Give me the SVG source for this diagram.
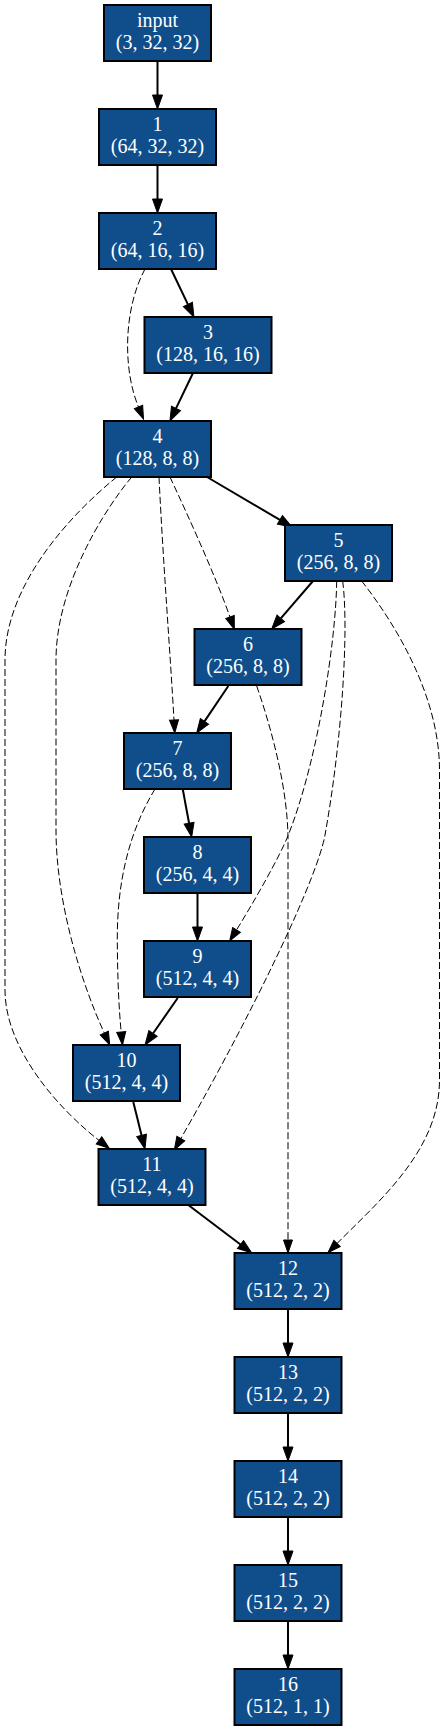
<svg xmlns="http://www.w3.org/2000/svg" width="445" height="1731" viewBox="0 0 445 1731">
<style>
.node rect{fill:#104e8b;stroke:#000;stroke-width:2}
.node text{fill:#fff;font-family:"Liberation Serif","Times New Roman",serif;font-size:20px;text-anchor:middle}
.e{fill:none;stroke:#000;stroke-width:2;marker-end:url(#as)}
.d{fill:none;stroke:#000;stroke-width:1;stroke-dasharray:7,3;marker-end:url(#ad)}
</style>
<defs>
<marker id="as" markerUnits="userSpaceOnUse" orient="auto" refX="0" refY="0" markerWidth="1" markerHeight="1" overflow="visible"><path d="M0,-5 L14,0 L0,5 z" fill="#000" stroke="#000" stroke-width="1"/></marker>
<marker id="ad" markerUnits="userSpaceOnUse" orient="auto" refX="0" refY="0" markerWidth="1" markerHeight="1" overflow="visible"><path d="M0,-4.5 L13,0 L0,4.5 z" fill="#000" stroke="#000" stroke-width="1" stroke-dasharray="none"/></marker>
</defs>
<g id="edges">
<path class="e" d="M157.5,61 L157.5,95"/>
<path class="e" d="M157.5,165 L157.5,199"/>
<path class="e" d="M171,269 L187.9,304.4"/>
<path class="d" d="M145,269 C123,310 123,370 138.5,407"/>
<path class="e" d="M193,373 L176,408.4"/>
<path class="e" d="M207,477 L279.9,519.9"/>
<path class="d" d="M170,477 C190,520 215,575 230,617"/>
<path class="d" d="M159,477 C163,560 170,650 174,720"/>
<path class="d" d="M131.7,477 C100,515 56,590 56,660 L56,830 C56,900 80,980 104.3,1033"/>
<path class="d" d="M116.7,477 C70,515 5,585 5,660 L5,990 C5,1050 60,1110 99,1140.4"/>
<path class="e" d="M313,581 L280.8,618.4"/>
<path class="d" d="M336.7,581 C336,640 318,760 288.3,835 C280,856 255,900 236.5,930"/>
<path class="d" d="M342.7,581 C349,630 342,740 325,835 C318,875 260,1000 180.8,1138.6"/>
<path class="d" d="M361.7,581 C400,630 439.5,700 439.5,770 L439.5,1080 C439.5,1150 380,1200 337.1,1243.4"/>
<path class="e" d="M228.3,686 L204.5,721.4"/>
<path class="d" d="M256.7,686 C272,730 288,790 288,840 L288,1240"/>
<path class="e" d="M182.7,789 L189.1,823.2"/>
<path class="d" d="M155,789 C130,830 117,880 117.3,940 C117.5,980 119,1010 121.2,1032"/>
<path class="e" d="M197.5,894 L197.5,927"/>
<path class="e" d="M177.7,998 L153,1033.5"/>
<path class="e" d="M133.3,1102 L141.6,1135.4"/>
<path class="e" d="M188.3,1205 L240.5,1244.5"/>
<path class="e" d="M288,1309 L288,1343"/>
<path class="e" d="M288,1413 L288,1447"/>
<path class="e" d="M288,1517 L288,1551"/>
<path class="e" d="M288,1621 L288,1655"/>
</g>
<g id="node_input" class="node"><rect x="104" y="5" width="107" height="56"/><text x="157.5" y="27">input</text><text x="157.5" y="49">(3, 32, 32)</text></g>
<g id="node_1" class="node"><rect x="99" y="109" width="117" height="56"/><text x="157.5" y="131">1</text><text x="157.5" y="153">(64, 32, 32)</text></g>
<g id="node_2" class="node"><rect x="99" y="213" width="117" height="56"/><text x="157.5" y="235">2</text><text x="157.5" y="257">(64, 16, 16)</text></g>
<g id="node_3" class="node"><rect x="144.5" y="317" width="127" height="56"/><text x="208" y="339">3</text><text x="208" y="361">(128, 16, 16)</text></g>
<g id="node_4" class="node"><rect x="104" y="421" width="107" height="56"/><text x="157.5" y="443">4</text><text x="157.5" y="465">(128, 8, 8)</text></g>
<g id="node_5" class="node"><rect x="285" y="525" width="107" height="56"/><text x="338.5" y="547">5</text><text x="338.5" y="569">(256, 8, 8)</text></g>
<g id="node_6" class="node"><rect x="194.5" y="629" width="107" height="56"/><text x="248" y="651">6</text><text x="248" y="673">(256, 8, 8)</text></g>
<g id="node_7" class="node"><rect x="124" y="733" width="107" height="56"/><text x="177.5" y="755">7</text><text x="177.5" y="777">(256, 8, 8)</text></g>
<g id="node_8" class="node"><rect x="144" y="837" width="107" height="56"/><text x="197.5" y="859">8</text><text x="197.5" y="881">(256, 4, 4)</text></g>
<g id="node_9" class="node"><rect x="144" y="941" width="107" height="56"/><text x="197.5" y="963">9</text><text x="197.5" y="985">(512, 4, 4)</text></g>
<g id="node_10" class="node"><rect x="73" y="1045" width="107" height="56"/><text x="126.5" y="1067">10</text><text x="126.5" y="1089">(512, 4, 4)</text></g>
<g id="node_11" class="node"><rect x="98.5" y="1149" width="107" height="56"/><text x="152" y="1171">11</text><text x="152" y="1193">(512, 4, 4)</text></g>
<g id="node_12" class="node"><rect x="234.5" y="1253" width="107" height="56"/><text x="288" y="1275">12</text><text x="288" y="1297">(512, 2, 2)</text></g>
<g id="node_13" class="node"><rect x="234.5" y="1357" width="107" height="56"/><text x="288" y="1379">13</text><text x="288" y="1401">(512, 2, 2)</text></g>
<g id="node_14" class="node"><rect x="234.5" y="1461" width="107" height="56"/><text x="288" y="1483">14</text><text x="288" y="1505">(512, 2, 2)</text></g>
<g id="node_15" class="node"><rect x="234.5" y="1565" width="107" height="56"/><text x="288" y="1587">15</text><text x="288" y="1609">(512, 2, 2)</text></g>
<g id="node_16" class="node"><rect x="234.5" y="1669" width="107" height="56"/><text x="288" y="1691">16</text><text x="288" y="1713">(512, 1, 1)</text></g>
</svg>
